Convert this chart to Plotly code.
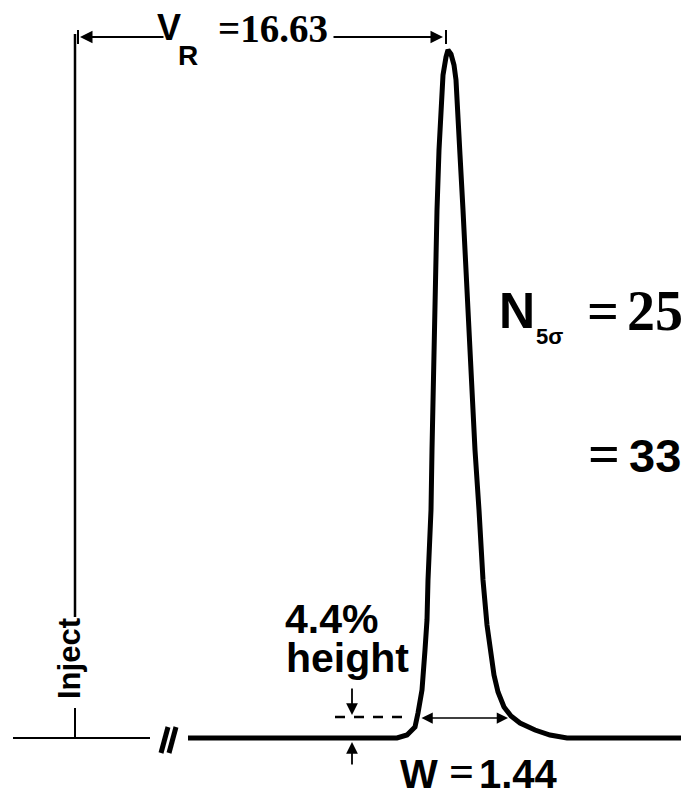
import plotly.graph_objects as go

# ---- data (diagram units: x right, y down) ----
chrom_x = [188, 397, 407, 412, 415, 418, 420, 422, 425, 427, 428, 431, 432, 433, 434, 435, 437, 439,
           441, 443, 446, 448, 451, 454, 456, 458, 460, 463, 466, 468, 472, 475, 479, 483, 487, 490,
           494, 498, 504, 511, 520, 535, 550, 567, 681]
chrom_y = [738, 738, 735, 731, 727, 713, 700, 690, 650, 620, 580, 510, 450, 390, 330, 270, 210, 150,
           105, 75, 57, 50, 54, 65, 80, 110, 155, 210, 270, 330, 390, 450, 510, 580, 625, 650,
           675, 692, 707, 716, 723, 730, 735, 738, 738]

VR_VALUE = 16.63
W_VALUE = 1.44
HEIGHT_PCT = 4.4
N5S_VALUE = "25"
N_VALUE = "33"

SANS = "Liberation Sans, Arial, sans-serif"
SERIF = "Liberation Serif, Times New Roman, serif"

fig = go.Figure()

# chromatogram trace (thick)
fig.add_trace(go.Scatter(x=chrom_x, y=chrom_y, mode="lines",
                         line=dict(color="black", width=5), hoverinfo="skip"))

shapes = []
def seg(x0, y0, x1, y1, w=2, dash=None):
    d = dict(type="line", xref="x", yref="y", x0=x0, y0=y0, x1=x1, y1=y1,
             line=dict(color="black", width=w))
    if dash:
        d["line"]["dash"] = dash
    shapes.append(d)

# thin baseline before the break and inject marker
seg(13, 738, 150, 738, 2)
seg(75, 708, 75, 738, 2)
seg(75, 34, 75, 617, 2.5)
# break marks
seg(168, 727, 161, 753, 5)
seg(176, 727, 169, 753, 5)
# V_R end ticks
seg(78, 30, 78, 44, 2)
seg(446, 30, 446, 44, 2)
# dashed 4.4% height line
seg(335, 717, 407, 717, 2.5, dash="10px,9px")

annotations = []
def arrow(x, y, ax, ay, w=2, size=1.2, both=False):
    a = dict(x=x, y=y, ax=ax, ay=ay, xref="x", yref="y", axref="x", ayref="y",
             text="", showarrow=True, arrowhead=2, arrowwidth=w, arrowsize=size,
             arrowcolor="black", standoff=0, startstandoff=0)
    if both:
        a.update(arrowside="end+start", startarrowhead=2, startarrowsize=size)
    annotations.append(a)

arrow(80, 37, 165, 37, 2, 1.25)
arrow(443, 37, 332, 37, 2, 1.25)
arrow(352, 715, 352, 687, 1.8, 1.3)
arrow(352, 742, 352, 766, 1.8, 1.3)
arrow(508, 718, 420, 718, 1.5, 1.5, both=True)

def label(x, y, text, size, family=SANS, xanchor="left", angle=0):
    annotations.append(dict(x=x, y=y, xref="x", yref="y", text=text, showarrow=False,
                            xanchor=xanchor, yanchor="middle", textangle=angle,
                            font=dict(family=family, size=size, color="black"),
                            borderpad=0))

label(156, 27, "<b>V</b>", 36)
label(177, 55, "<b>R</b>", 28)
label(217, 28, f"<b>={VR_VALUE:.2f}</b>", 39, SERIF)

label(498, 311, "<b>N</b>", 50)
label(535, 336, "<b>5σ</b>", 22)
label(586, 311, "<b>=</b>", 56, SERIF)
label(626, 311, f"<b>{N5S_VALUE}</b>", 56, SERIF)

label(587, 454, "<b>=</b>", 56, SERIF)
label(628, 455, f"<b>{N_VALUE}</b>", 47)

label(284, 619, f"<b>{HEIGHT_PCT}%</b>", 41)
label(285, 658, "<b>height</b>", 41)

label(399, 774, "<b>W</b>", 40)
label(448, 771, "<b>=</b>", 44, SERIF)
label(478, 774, f"<b>{W_VALUE:.2f}</b>", 40)

label(69, 659, "<b>Inject</b>", 31, xanchor="center", angle=-90)

fig.update_layout(
    width=681, height=789, margin=dict(l=0, r=0, t=0, b=0),
    paper_bgcolor="white", plot_bgcolor="white", showlegend=False,
    xaxis=dict(range=[0, 681], visible=False, fixedrange=True),
    yaxis=dict(range=[789, 0], visible=False, fixedrange=True),
    shapes=shapes, annotations=annotations,
)

fig.write_html("out.html", config={"displayModeBar": False},
               post_script="document.body.style.margin='0';document.body.style.overflow='hidden';")
